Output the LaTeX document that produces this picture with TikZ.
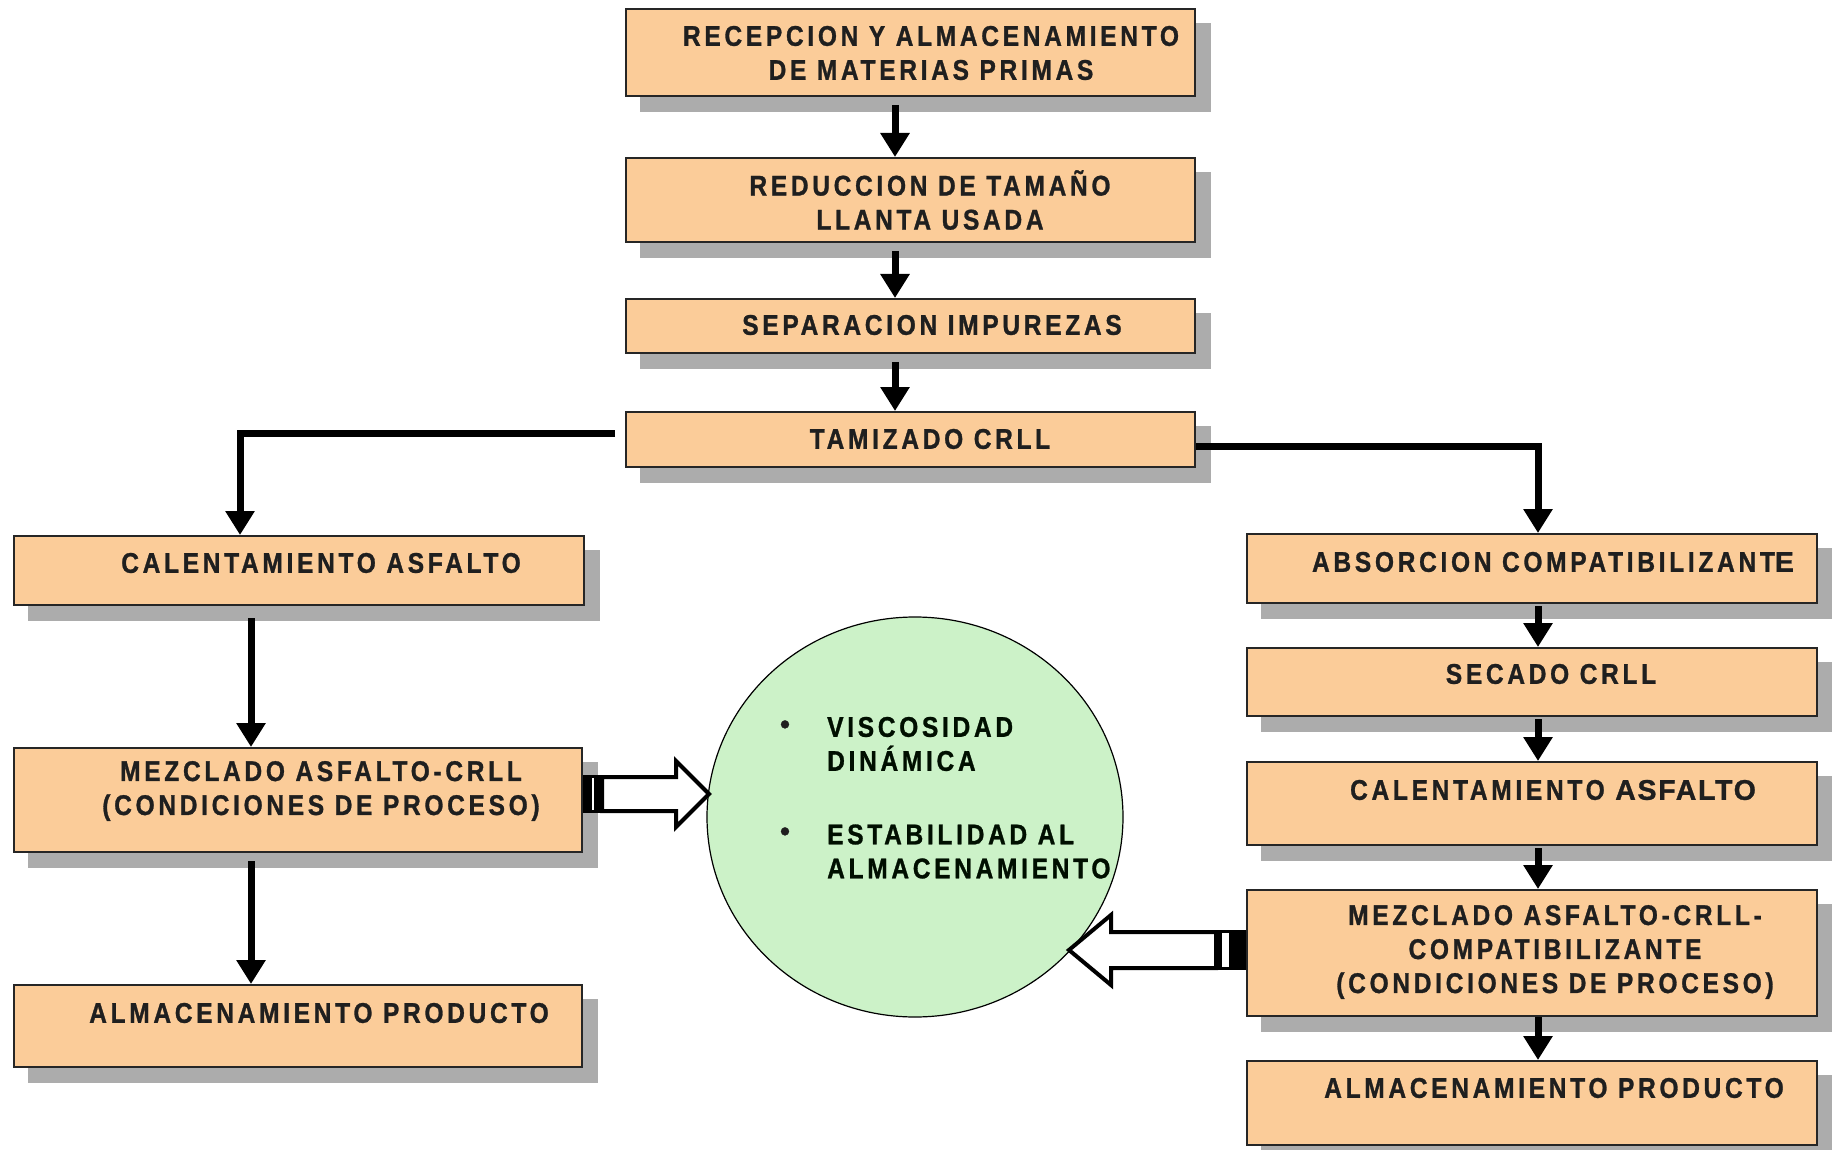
\documentclass[tikz,border=0pt]{standalone}
\usepackage{fontspec}
\setmainfont{Liberation Sans}
\newfontfamily\boxfont[FakeStretch=0.86,LetterSpace=13,FakeBold=1]{Liberation Sans Bold}
\newfontfamily\widefont[LetterSpace=6,FakeBold=1]{Liberation Sans Bold}
\usetikzlibrary{arrows.meta,calc,shapes.geometric}
\pgfdeclarelayer{back}
\pgfdeclarelayer{bg}
\pgfsetlayers{back,bg,main}
\definecolor{peach}{RGB}{251,204,153}
\definecolor{mint}{RGB}{204,242,200}
\definecolor{shadowgray}{RGB}{172,172,172}
\begin{document}
\begin{tikzpicture}[x=1pt,y=-1pt,
  procbox/.style={draw=black!85,line width=2pt,fill=peach,rectangle,inner sep=0pt},
  lbl/.style={font={\boxfont\fontsize{28.5}{34}\selectfont},align=center,text=black!88,inner sep=0pt},
  flow/.style={line width=7pt,-{Triangle[width=28pt,length=24pt]},shorten <=8pt},
  branch/.style={line width=7pt,-{Triangle[width=28pt,length=24pt]}},
  blockarr/.style={draw=black,line width=4pt,fill=white,line join=miter}]
\useasboundingbox (0,0) rectangle (1832,1150);
\begin{pgfonlayer}{back}
\fill[white] (0,0) rectangle (1832,1150);
\end{pgfonlayer}

% middle column
\node[procbox,minimum width=569pt,minimum height=87pt] (b1) at (910.5,52.5) {};
\node[procbox,minimum width=569pt,minimum height=84pt] (b2) at (910.5,200) {};
\node[procbox,minimum width=569pt,minimum height=54pt] (b3) at (910.5,326) {};
\node[procbox,minimum width=569pt,minimum height=55pt] (b4) at (910.5,439.5) {};
% left column
\node[procbox,minimum width=570pt,minimum height=69pt] (l1) at (299,570.5) {};
\node[procbox,minimum width=568pt,minimum height=104pt] (l2) at (298,800) {};
\node[procbox,minimum width=568pt,minimum height=82pt] (l3) at (298,1026) {};
% right column
\node[procbox,minimum width=570pt,minimum height=69pt] (r1) at (1532,568.5) {};
\node[procbox,minimum width=570pt,minimum height=68pt] (r2) at (1532,682) {};
\node[procbox,minimum width=570pt,minimum height=83pt] (r3) at (1532,803.5) {};
\node[procbox,minimum width=570pt,minimum height=126pt] (r4) at (1532,953) {};
\node[procbox,minimum width=570pt,minimum height=84pt] (r5) at (1532,1103) {};

\begin{pgfonlayer}{bg}
\foreach \n in {b1,b2,b3,b4,l1,l2,l3,r1,r2,r3,r4,r5}
  \fill[shadowgray] ($(\n.north west)+(15,15)$) rectangle ($(\n.south east)+(15,15)$);
\end{pgfonlayer}

% labels
\node[lbl] (t1) at (931,53) {RECEPCION Y ALMACENAMIENTO\\DE MATERIAS PRIMAS};
\node[lbl] (t2) at (930,200) {REDUCCION DE TAMAÑO\\LLANTA USADA};
\node[lbl] (t3) at (932,325) {SEPARACION IMPUREZAS};
\node[lbl] (t4) at (930,439) {TAMIZADO CRLL};
\node[lbl] (tl1) at (321,563) {CALENTAMIENTO ASFALTO};
\node[lbl] (tl2) at (321,791) {MEZCLADO ASFALTO-CRLL\\(CONDICIONES DE PROCESO)};
\node[lbl] (tl3) at (319,1013) {ALMACENAMIENTO PRODUCTO};
\node[lbl] (tr1) at (1553,562) {ABSORCION COMPATIBILIZANT{\widefont E}};
\node[lbl] (tr2) at (1551,674) {SECADO CRLL};
\node[lbl] (tr3) at (1553,790) {CALENTAMIENTO {\widefont ASFALTO}};
\node[lbl] (tr4) at (1555,952) {MEZCLADO ASFALTO-CRLL-\\COMPATIBILIZANTE\\(CONDICIONES DE PROCESO)};
\node[lbl] (tr5) at (1554,1088) {ALMACENAMIENTO PRODUCTO};

% result circle
\node[ellipse,draw=black,line width=1.2pt,fill=mint,minimum width=416pt,minimum height=400pt,inner sep=0pt] (res) at (915,817) {};
\node[lbl,font={\widefont\fontsize{28}{34}\selectfont}] (bu1) at (785,727) {•};
\node[lbl,font={\widefont\fontsize{28}{34}\selectfont}] (bu2) at (785,834) {•};
\node[lbl,align=left,anchor=west,text=black!85!green!40!black] (c1) at (827,744) {VISCOSIDAD\\DINÁMICA};
\node[lbl,align=left,anchor=west,text=black!85!green!40!black] (c2) at (827,851.5) {ESTABILIDAD AL\\ALMACENAMIENTO};

% connectors
\coordinate (mx) at (895,0);
\coordinate (lx) at (251,0);
\coordinate (rx) at (1538,0);
\draw[flow] (mx |- b1.south) -- (mx |- b2.north);
\draw[flow] (mx |- b2.south) -- (mx |- b3.north);
\draw[flow] (mx |- b3.south) -- (mx |- b4.north);
\draw[branch] ($(b4.west)+(-10,-6)$) -| ($(l1.north)+(-59,0)$);
\draw[branch] ($(b4.east)+(0,7)$) -| (rx |- r1.north);
\draw[flow,shorten <=12pt] (lx |- l1.south) -- (lx |- l2.north);
\draw[flow] (lx |- l2.south) -- (lx |- l3.north);
\draw[flow,shorten <=2pt] (rx |- r1.south) -- (rx |- r2.north);
\draw[flow,shorten <=2pt] (rx |- r2.south) -- (rx |- r3.north);
\draw[flow,shorten <=2pt] (rx |- r3.south) -- (rx |- r4.north);
\draw[flow,shorten <=0pt] (rx |- r4.south) -- (rx |- r5.north);

% block arrows to the circle
\coordinate (la) at ($(l2.east)+(0,-6)$);
\draw[blockarr] ($(la)+(19,-17)$) -- ($(la)+(93,-17)$) -- ($(la)+(93,-33)$) -- ($(la)+(126,0)$)
  -- ($(la)+(93,33)$) -- ($(la)+(93,17)$) -- ($(la)+(19,17)$) -- cycle;
\fill[black] ($(la)+(0,-19)$) rectangle ($(la)+(20,19)$);
\fill[white] ($(la)+(9,-16)$) rectangle ($(la)+(11,16)$);

\coordinate (ra) at ($(r4.west)+(0,-3)$);
\draw[blockarr] ($(ra)+(-30,-18)$) -- ($(ra)+(-135,-18)$) -- ($(ra)+(-135,-35)$) -- ($(ra)+(-177,0)$)
  -- ($(ra)+(-135,35)$) -- ($(ra)+(-135,18)$) -- ($(ra)+(-30,18)$) -- cycle;
\fill[black] ($(ra)+(-31,-20)$) rectangle ($(ra)+(0,20)$);
\fill[white] ($(ra)+(-24,-17)$) rectangle ($(ra)+(-17,17)$);
\end{tikzpicture}
\end{document}
